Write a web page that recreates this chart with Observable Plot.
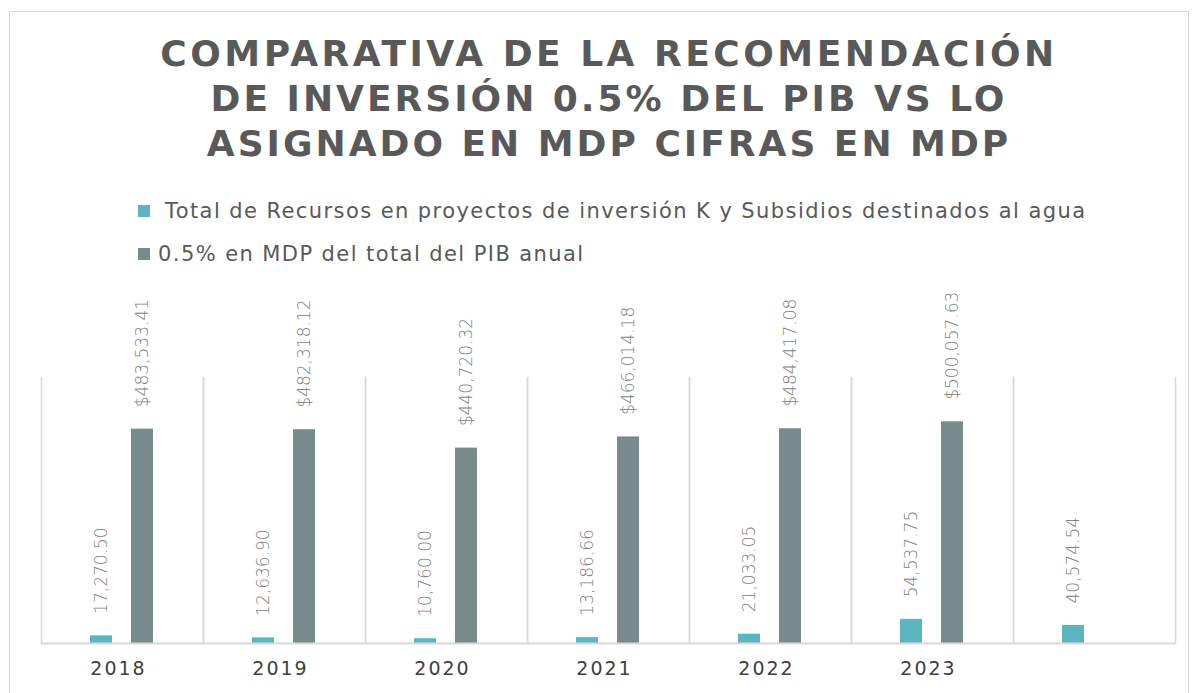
<!DOCTYPE html>
<html>
<head>
<meta charset="utf-8">
<script src="https://cdn.jsdelivr.net/npm/d3@7"></script>
<script src="https://cdn.jsdelivr.net/npm/@observablehq/plot@0.6"></script>
<style>
  html, body { margin: 0; padding: 0; background: #fff; }
  #page { position: relative; width: 1198px; height: 693px; overflow: hidden; font-family: "DejaVu Sans", sans-serif; }
  #frame { position: absolute; left: 9px; top: 11px; width: 1180px; height: 700px; border: 1.5px solid #d9d9d9; box-sizing: border-box; }
  #title { position: absolute; left: 0; width: 1218px; top: 31px; text-align: center; color: #595959;
           font-weight: bold; font-size: 36px; line-height: 45px; letter-spacing: 3.5px; }
  #title span.l2, #title span.l3 { letter-spacing: 3.0px; }
  .leg { position: absolute; font-size: 21px; color: #595959; white-space: nowrap; line-height: 24px; letter-spacing: 1.42px; }
  .sw { position: absolute; width: 12px; height: 12px; }
  #chart { position: absolute; left: 0; top: 280px; }
</style>
</head>
<body>
<div id="page">
  <div id="frame"></div>
  <div id="title">COMPARATIVA DE LA RECOMENDACIÓN<br><span class="l2">DE INVERSIÓN 0.5% DEL PIB VS LO</span><br><span class="l3">ASIGNADO EN MDP CIFRAS EN MDP</span></div>
  <div class="sw" style="left:138px;top:205px;background:#5bb6c0"></div>
  <div class="leg" id="leg1" style="left:165px;top:199px">Total de Recursos en proyectos de inversión K y Subsidios destinados al agua</div>
  <div class="sw" style="left:138px;top:248px;background:#7a8b8d"></div>
  <div class="leg" id="leg2" style="left:158px;top:242px">0.5% en MDP del total del PIB anual</div>
  <div id="chart"></div>
</div>
<script>
const years = ["2018", "2019", "2020", "2021", "2022", "2023", ""];
const seriesNames = [
  "Total de Recursos en proyectos de inversión K y Subsidios destinados al agua",
  "0.5% en MDP del total del PIB anual"
];
const recursos = [17270.50, 12636.90, 10760.00, 13186.66, 21033.05, 54537.75, 40574.54];
const pib = [483533.41, 482318.12, 440720.32, 466014.18, 484417.08, 500057.63, null];
const colors = ["#5bb6c0", "#7a8b8d"];

const fmt = d3.format(",.2f");
const data = [];
years.forEach((yr, i) => {
  if (recursos[i] != null) data.push({year: yr, series: seriesNames[0], value: recursos[i], label: fmt(recursos[i])});
  if (pib[i] != null) data.push({year: yr, series: seriesNames[1], value: pib[i], label: "$" + fmt(pib[i])});
});

const chart = Plot.plot({
  width: 1198,
  height: 410,
  marginTop: 97,
  marginBottom: 47,
  marginLeft: 38,
  marginRight: 20,
  style: {fontFamily: "DejaVu Sans, sans-serif", background: "transparent", overflow: "visible"},
  fx: {domain: years, padding: 0, label: null},
  x: {domain: seriesNames, paddingInner: 0.462, paddingOuter: 1.171, axis: null},
  y: {domain: [0, 600000], axis: null},
  color: {domain: seriesNames, range: colors},
  marks: [
    Plot.frame({anchor: "left", stroke: "#d9d9d9", strokeWidth: 1.5}),
    Plot.frame({anchor: "right", stroke: "#d9d9d9", strokeWidth: 1.5}),
    Plot.barY(data, {fx: "year", x: "series", y: "value", fill: "series"}),
    Plot.ruleY([0], {stroke: "#d9d9d9", strokeWidth: 2}),
    Plot.text(data, {fx: "year", x: "series", y: "value", text: "label", rotate: -90, textAnchor: "start",
      dy: -22, fontSize: 17, fontWeight: 300, fill: "#808080", letterSpacing: "1.1px"}),
    Plot.axisFx({anchor: "bottom", tickSize: 0, tickPadding: 18, fontSize: 19, fill: "#404040",
      dx: -4, tickFormat: d => d, label: null})
  ]
});
document.getElementById("chart").appendChild(chart);
chart.querySelectorAll("g[aria-label='fx-axis tick label'] text").forEach(t => t.setAttribute("letter-spacing", "2px"));
</script>
</body>
</html>
